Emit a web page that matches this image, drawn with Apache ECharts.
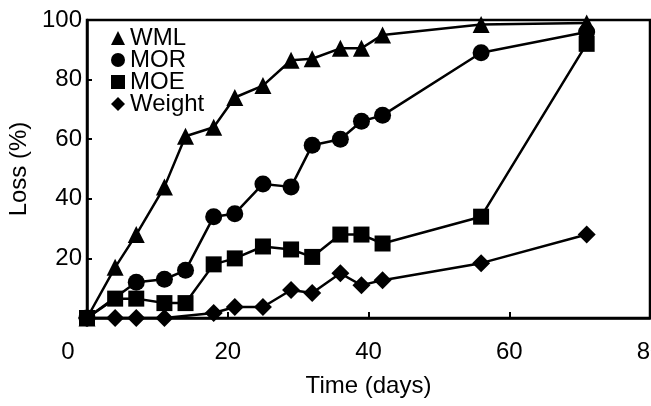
<!DOCTYPE html>
<html>
<head>
<meta charset="utf-8">
<title>Loss vs time</title>
<script src="https://cdn.jsdelivr.net/npm/echarts@6/dist/echarts.min.js"></script>
<style>
  html, body { margin: 0; padding: 0; background: #fff; }
  #chart { width: 651px; height: 406px; }
</style>
</head>
<body>
<div id="chart"></div>
<script>
// sampling days and losses (%)
var wmlDays = [0, 4, 7, 11, 14, 18, 21, 25, 29, 32, 36, 39, 42, 56, 71];
var wmlLoss = [0, 17, 28, 44, 61, 64, 74, 78, 86.5, 87, 90.5, 90.5, 95, 98.5, 99];

var morDays = [0, 7, 11, 14, 18, 21, 25, 29, 32, 36, 39, 42, 56, 71];
var morLoss = [0, 12, 13, 16, 34, 35, 45, 44, 58, 60, 66, 68, 89, 96];

var moeDays = [0, 4, 7, 11, 14, 18, 21, 25, 29, 32, 36, 39, 42, 56, 71];
var moeLoss = [0, 6.5, 6.5, 5, 5, 18, 20, 24, 23, 20.5, 28, 28, 25, 34, 92];

var wtDays = [0, 4, 7, 11, 18, 21, 25, 29, 32, 36, 39, 42, 56, 71];
var wtLoss = [0, 0, 0, 0, 1.7, 3.7, 3.7, 9.4, 8.4, 15, 11, 12.7, 18.4, 28];

var xTicks = [0, 20, 40, 60, 80];
var yTicks = [20, 40, 60, 80, 100];

function pairs(xs, ys) {
  var out = [];
  for (var i = 0; i < xs.length; i++) out.push([xs[i], ys[i]]);
  return out;
}

var font = '"Liberation Sans", Arial, sans-serif';

function makeSeries(name, xs, ys, symbol, size) {
  return {
    name: name,
    type: 'line',
    data: pairs(xs, ys),
    symbol: symbol,
    symbolSize: size,
    color: '#000',
    lineStyle: { color: '#000', width: 2.5 },
    itemStyle: { color: '#000' },
    animation: false
  };
}

var option = {
  backgroundColor: '#fff',
  textStyle: { fontFamily: font },
  grid: {
    left: 87, right: 1, top: 20, bottom: 88,
    show: true, borderColor: '#000', borderWidth: 2.5,
    outerBoundsMode: 'none'
  },
  legend: {
    orient: 'vertical',
    left: 106, top: 21,
    itemWidth: 14, itemHeight: 14,
    itemGap: -2,
    itemTextGap: 10,
    textStyle: { fontFamily: font, fontSize: 24, color: '#000' },
    data: [
      { name: 'WML', icon: 'triangle' },
      { name: 'MOR', icon: 'circle' },
      { name: 'MOE', icon: 'rect' },
      { name: 'Weight', icon: 'diamond' }
    ]
  },
  xAxis: {
    type: 'value',
    min: 0, max: 80, interval: 20,
    name: 'Time (days)',
    nameLocation: 'middle',
    nameGap: 56,
    nameTextStyle: { fontFamily: font, fontSize: 24, color: '#000' },
    axisLine: { lineStyle: { color: '#000', width: 2.5 } },
    axisTick: { inside: true, length: 6, lineStyle: { color: '#000', width: 2 } },
    splitLine: { show: false },
    axisLabel: {
      margin: 22,
      fontFamily: font, fontSize: 24, color: '#000',
      showMaxLabel: true,
      formatter: function (v) {
        return xTicks.indexOf(v) === 0 ? '{z|' + v + '}' : String(v);
      },
      rich: { z: { fontFamily: font, fontSize: 24, color: '#000', padding: [0, 38, 0, 0] } }
    }
  },
  yAxis: {
    type: 'value',
    min: 0, max: 100, interval: 20,
    name: 'Loss (%)',
    nameLocation: 'middle',
    nameGap: 48,
    nameRotate: 90,
    nameTextStyle: { fontFamily: font, fontSize: 24, color: '#000' },
    axisLine: { show: true, lineStyle: { color: '#000', width: 2.5 } },
    axisTick: { show: true, inside: true, length: 5, lineStyle: { color: '#000', width: 2 } },
    splitLine: { show: false },
    axisLabel: {
      margin: 5,
      fontFamily: font, fontSize: 24, color: '#000',
      formatter: function (v) { return yTicks.indexOf(v) >= 0 ? String(v) : ''; }
    }
  },
  series: [
    makeSeries('WML', wmlDays, wmlLoss, 'triangle', 17),
    makeSeries('MOR', morDays, morLoss, 'circle', 17),
    makeSeries('MOE', moeDays, moeLoss, 'rect', 16),
    makeSeries('Weight', wtDays, wtLoss, 'diamond', 18)
  ]
};

var chart = echarts.init(document.getElementById('chart'), null, { renderer: 'canvas' });
chart.setOption(option);
</script>
</body>
</html>
